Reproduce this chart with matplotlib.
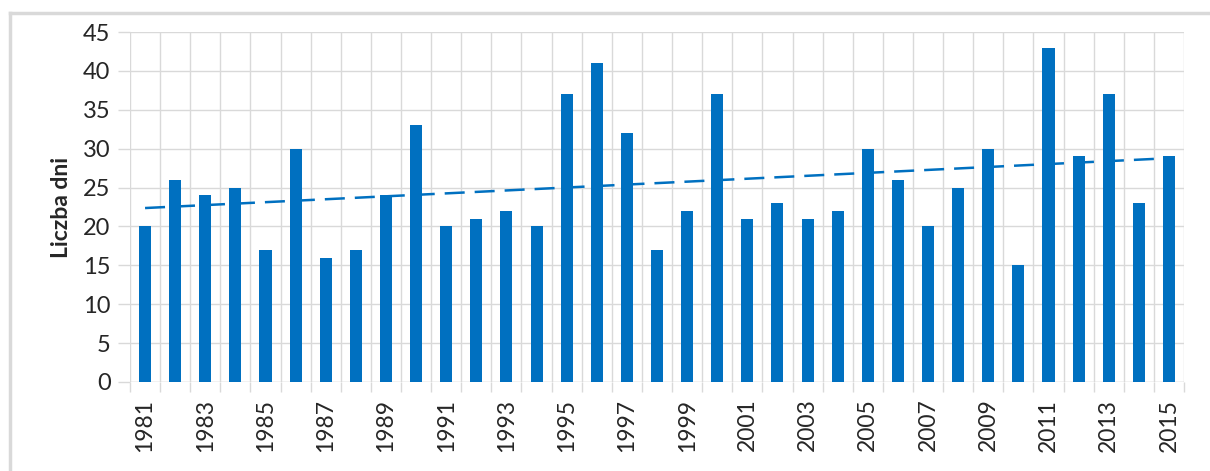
import numpy as np
import matplotlib
matplotlib.use("Agg")
import matplotlib.pyplot as plt
from matplotlib.lines import Line2D

# ---------------------------------------------------------------
# Data
# ---------------------------------------------------------------
years = np.arange(1981, 2016)
days = np.array([20, 26, 24, 25, 17, 30, 16, 17, 24, 33,
                 20, 21, 22, 20, 37, 41, 32, 17, 22, 37,
                 21, 23, 21, 22, 30, 26, 20, 25, 30, 15,
                 43, 29, 37, 23, 29])
ylabel = "Liczba dni"
yticks = np.arange(0, 50, 5)

BLUE = "#0070C0"
GRID = "#d9d9d9"

plt.rcParams['font.family'] = ['Lato', 'DejaVu Sans']

fig = plt.figure(figsize=(12.10, 4.71), dpi=100)
ax = fig.add_axes([130 / 1210, 1 - 382 / 471, (1184 - 130) / 1210, (382 - 32) / 471])

x = np.arange(len(years))
ax.bar(x, days, width=0.4, color=BLUE, zorder=3)

# linear trend (as Excel's trendline)
coef = np.polyfit(x, days, 1)
ax.plot(x, np.polyval(coef, x), color=BLUE, lw=1.8, dashes=(8, 4), zorder=4)

ax.set_xlim(-0.5, len(years) - 0.5)
ax.set_ylim(0, 45)
ax.set_yticks(yticks)
ax.tick_params(axis='y', length=9, color=GRID, width=1, labelsize=17, pad=5,
               labelcolor="#262626")

# labels at bar centres, ticks/grid at category boundaries
ax.set_xticks(x[::2])
ax.set_xticklabels([str(y) for y in years[::2]], rotation=90, fontsize=16.5,
                   color="#262626")
ax.tick_params(axis='x', which='major', length=0, pad=12)
ax.set_xticks(np.arange(-0.5, len(years), 1), minor=True)
ax.tick_params(axis='x', which='minor', length=7, color=GRID, width=1)

ax.grid(axis='y', color=GRID, lw=1, zorder=0)
ax.grid(axis='x', which='minor', color=GRID, lw=1, zorder=0)
for s in ax.spines.values():
    s.set_visible(False)
ax.axhline(0, color=GRID, lw=1, zorder=2)

ax.set_ylabel(ylabel, fontsize=16.5, fontweight='bold', labelpad=8,
              color="#262626")

# outer chart frame (top and left edges visible)
fig.add_artist(Line2D([10 / 1210, 10 / 1210], [0, 1 - 13 / 471],
                      transform=fig.transFigure, color=GRID, lw=2.5))
fig.add_artist(Line2D([10 / 1210, 1], [1 - 13 / 471, 1 - 13 / 471],
                      transform=fig.transFigure, color=GRID, lw=2.5))

fig.savefig("out.png", dpi=100)
